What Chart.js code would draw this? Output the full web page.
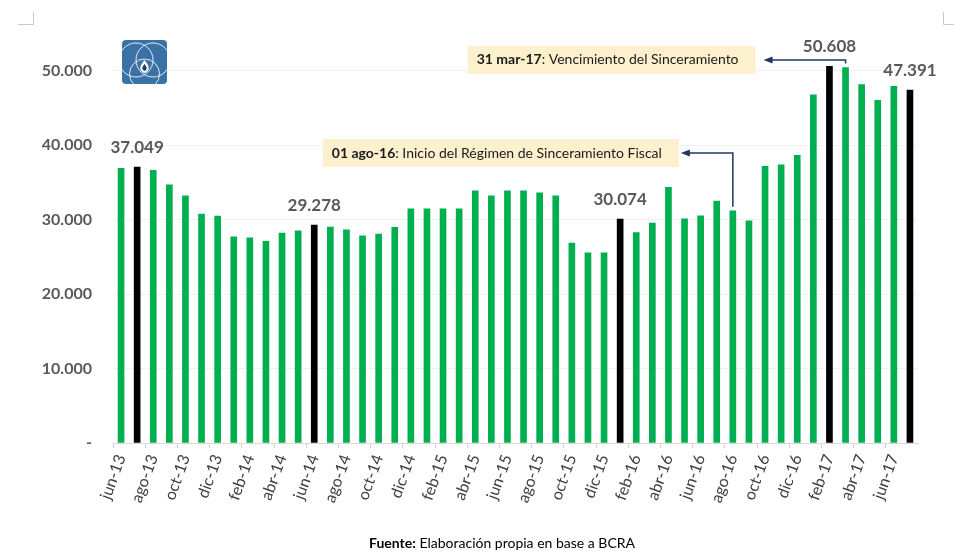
<!DOCTYPE html>
<html lang="es">
<head>
    <meta charset="UTF-8">
    <title>Depósitos en dólares - BCRA</title>
    <script src="https://cdn.jsdelivr.net/npm/chart.js"></script>
    <style>
        html, body { margin: 0; padding: 0; background: #fff; }
        canvas { display: block; }
    </style>
</head>
<body>
    <canvas id="grafico" width="954" height="552"></canvas>

    <script>
// Datos (millones de USD)
const meses = [
    'jun-13', 'jul-13', 'ago-13', 'sep-13', 'oct-13', 'nov-13', 'dic-13',
    'ene-14', 'feb-14', 'mar-14', 'abr-14', 'may-14', 'jun-14', 'jul-14', 'ago-14', 'sep-14', 'oct-14', 'nov-14', 'dic-14',
    'ene-15', 'feb-15', 'mar-15', 'abr-15', 'may-15', 'jun-15', 'jul-15', 'ago-15', 'sep-15', 'oct-15', 'nov-15', 'dic-15',
    'ene-16', 'feb-16', 'mar-16', 'abr-16', 'may-16', 'jun-16', 'jul-16', 'ago-16', 'sep-16', 'oct-16', 'nov-16', 'dic-16',
    'ene-17', 'feb-17', 'mar-17', 'abr-17', 'may-17', 'jun-17', 'jul-17'
];
const valores = [
    36900, 37049, 36640, 34680, 33200, 30740, 30470,
    27700, 27570, 27080, 28190, 28510, 29278, 29000, 28650, 27820, 28060, 28960, 31460,
    31460, 31460, 31460, 33870, 33200, 33870, 33870, 33600, 33200, 26860, 25560, 25560,
    30074, 28280, 29550, 34360, 30120, 30520, 32480, 31190, 29850, 37170, 37360, 38650,
    46780, 50608, 50440, 48160, 46020, 47900, 47391
];
// meses destacados en negro y con etiqueta de valor
const destacados = ['jul-13', 'jun-14', 'ene-16', 'feb-17', 'jul-17'];
const ticksY = [0, 10000, 20000, 30000, 40000, 50000];

// Notas con flecha: mes de la barra, nivel de la flecha (valor del eje), texto
const notas = [
    { mes: 'ago-16', nivel: 38950, negrita: '01 ago-16', texto: ': Inicio del Régimen de Sinceramiento Fiscal', largo: 52, hueco: 2 },
    { mes: 'mar-17', nivel: 51450, negrita: '31 mar-17', texto: ': Vencimiento del Sinceramiento', largo: 82, hueco: 8 }
];

const VERDE = '#00b050';
const GRIS = '#595959';
const FUENTE = 'Lato, "Open Sans", sans-serif';

function formatear(v) {
    if (v === 0) return '-';
    return String(v).replace(/\B(?=(\d{3})+(?!\d))/g, '.');
}

const colores = meses.map(m => destacados.includes(m) ? '#000000' : VERDE);

// Etiquetas de valor sobre las barras destacadas
const etiquetasValor = {
    id: 'etiquetasValor',
    afterDatasetsDraw(chart) {
        const ctx = chart.ctx;
        const meta = chart.getDatasetMeta(0);
        ctx.save();
        ctx.font = 'bold 17px ' + FUENTE;
        ctx.fillStyle = GRIS;
        ctx.textAlign = 'center';
        ctx.textBaseline = 'middle';
        destacados.forEach(m => {
            const i = meses.indexOf(m);
            const bar = meta.data[i];
            ctx.fillText(formatear(valores[i]), bar.x, bar.y - 20);
        });
        ctx.restore();
    }
};

// Cuadros de texto y flechas
const anotaciones = {
    id: 'anotaciones',
    afterDatasetsDraw(chart) {
        const ctx = chart.ctx;
        const meta = chart.getDatasetMeta(0);
        const y = chart.scales.y;
        ctx.save();
        notas.forEach(n => {
            const bar = meta.data[meses.indexOf(n.mes)];
            const yl = y.getPixelForValue(n.nivel);
            const punta = bar.x - n.largo;

            // caja
            ctx.font = 'bold 14px ' + FUENTE;
            const w1 = ctx.measureText(n.negrita).width;
            ctx.font = '14px ' + FUENTE;
            const w2 = ctx.measureText(n.texto).width;
            const derecha = punta - n.hueco;
            const ancho = w1 + w2 + 26;
            const izq = derecha - ancho;
            ctx.fillStyle = '#fdf0cc';
            ctx.fillRect(izq, yl - 14, ancho, 28);

            ctx.fillStyle = '#1a1a1a';
            ctx.textBaseline = 'middle';
            ctx.textAlign = 'left';
            ctx.font = 'bold 14px ' + FUENTE;
            ctx.fillText(n.negrita, izq + 9, yl);
            ctx.font = '14px ' + FUENTE;
            ctx.fillText(n.texto, izq + 9 + w1, yl);

            // flecha
            ctx.strokeStyle = '#1f3864';
            ctx.fillStyle = '#1f3864';
            ctx.lineWidth = 1.5;
            ctx.beginPath();
            ctx.moveTo(bar.x, bar.y - 4);
            ctx.lineTo(bar.x, yl);
            ctx.lineTo(punta + 7, yl);
            ctx.stroke();
            ctx.beginPath();
            ctx.moveTo(punta, yl);
            ctx.lineTo(punta + 9, yl - 3.5);
            ctx.lineTo(punta + 9, yl + 3.5);
            ctx.closePath();
            ctx.fill();
        });
        ctx.restore();
    }
};

// Logo, marcas de esquina y fuente
const decoracion = {
    id: 'decoracion',
    afterDraw(chart) {
        const ctx = chart.ctx;
        ctx.save();

        // marcas de esquina
        ctx.strokeStyle = '#c8c8c8';
        ctx.lineWidth = 1;
        ctx.beginPath();
        ctx.moveTo(33.5, 12); ctx.lineTo(33.5, 24.5); ctx.lineTo(18, 24.5);
        ctx.moveTo(943.5, 12); ctx.lineTo(943.5, 24.5); ctx.lineTo(954, 24.5);
        ctx.stroke();

        // logo
        const lx = 122, ly = 40, ls = 45;
        ctx.fillStyle = '#3b72a6';
        ctx.beginPath();
        ctx.roundRect(lx, ly, ls, ls - 1, 4);
        ctx.fill();
        ctx.save();
        ctx.beginPath();
        ctx.roundRect(lx, ly, ls, ls - 1, 4);
        ctx.clip();
        ctx.strokeStyle = 'rgba(255,255,255,0.85)';
        ctx.lineWidth = 1;
        ctx.beginPath();
        ctx.arc(lx + 14, ly + 20, 17, 0, Math.PI * 2);
        ctx.stroke();
        ctx.beginPath();
        ctx.arc(lx + 31, ly + 20, 17, 0, Math.PI * 2);
        ctx.stroke();
        ctx.beginPath();
        ctx.arc(lx + 22.5, ly + 34, 15, 0, Math.PI * 2);
        ctx.stroke();
        ctx.restore();
        // gota
        ctx.fillStyle = '#ffffff';
        ctx.beginPath();
        ctx.moveTo(lx + 22.5, ly + 20);
        ctx.quadraticCurveTo(lx + 31, ly + 30, lx + 22.5, ly + 33);
        ctx.quadraticCurveTo(lx + 14, ly + 30, lx + 22.5, ly + 20);
        ctx.fill();
        ctx.fillStyle = '#1f3f66';
        ctx.beginPath();
        ctx.moveTo(lx + 22.5, ly + 24);
        ctx.quadraticCurveTo(lx + 27, ly + 29, lx + 22.5, ly + 31);
        ctx.quadraticCurveTo(lx + 18, ly + 29, lx + 22.5, ly + 24);
        ctx.fill();

        // fuente
        ctx.textBaseline = 'middle';
        ctx.textAlign = 'left';
        ctx.fillStyle = '#000';
        ctx.font = 'bold 14px ' + FUENTE;
        const a = 'Fuente:';
        const wa = ctx.measureText(a).width;
        ctx.font = '14px ' + FUENTE;
        const b = ' Elaboración propia en base a BCRA';
        const wb = ctx.measureText(b).width;
        const x0 = 502 - (wa + wb) / 2;
        ctx.font = 'bold 14px ' + FUENTE;
        ctx.fillText(a, x0, 543);
        ctx.font = '14px ' + FUENTE;
        ctx.fillText(b, x0 + wa, 543);

        ctx.restore();
    }
};

new Chart(document.getElementById('grafico'), {
    type: 'bar',
    data: {
        labels: meses,
        datasets: [{
            data: valores,
            backgroundColor: colores,
            barThickness: 6
        }]
    },
    options: {
        responsive: false,
        devicePixelRatio: 1,
        animation: false,
        layout: { padding: { top: 41, right: 36, left: 0, bottom: 0 } },
        plugins: {
            legend: { display: false },
            tooltip: { enabled: false }
        },
        scales: {
            x: {
                afterFit(scale) { scale.height = 109; },
                border: { color: '#d9d9d9' },
                grid: {
                    drawOnChartArea: false,
                    tickLength: 5,
                    color: c => (c.index % 2 === 0 ? '#d0d0d0' : 'rgba(0,0,0,0)')
                },
                ticks: {
                    autoSkip: false,
                    minRotation: 70,
                    maxRotation: 70,
                    padding: 4,
                    color: '#404040',
                    font: { family: FUENTE, size: 16 },
                    callback: (v, i) => (i % 2 === 0 ? meses[i] : '')
                }
            },
            y: {
                min: 0,
                max: 54000,
                afterFit(scale) { scale.width = 113; },
                afterBuildTicks(scale) { scale.ticks = ticksY.map(v => ({ value: v })); },
                border: { display: false },
                grid: { color: '#f0f0f0', drawTicks: false },
                ticks: {
                    padding: 21,
                    color: GRIS,
                    font: { family: FUENTE, size: 16, weight: 'bold' },
                    callback: v => formatear(v)
                }
            }
        }
    },
    plugins: [etiquetasValor, anotaciones, decoracion]
});
    </script>
</body>
</html>
